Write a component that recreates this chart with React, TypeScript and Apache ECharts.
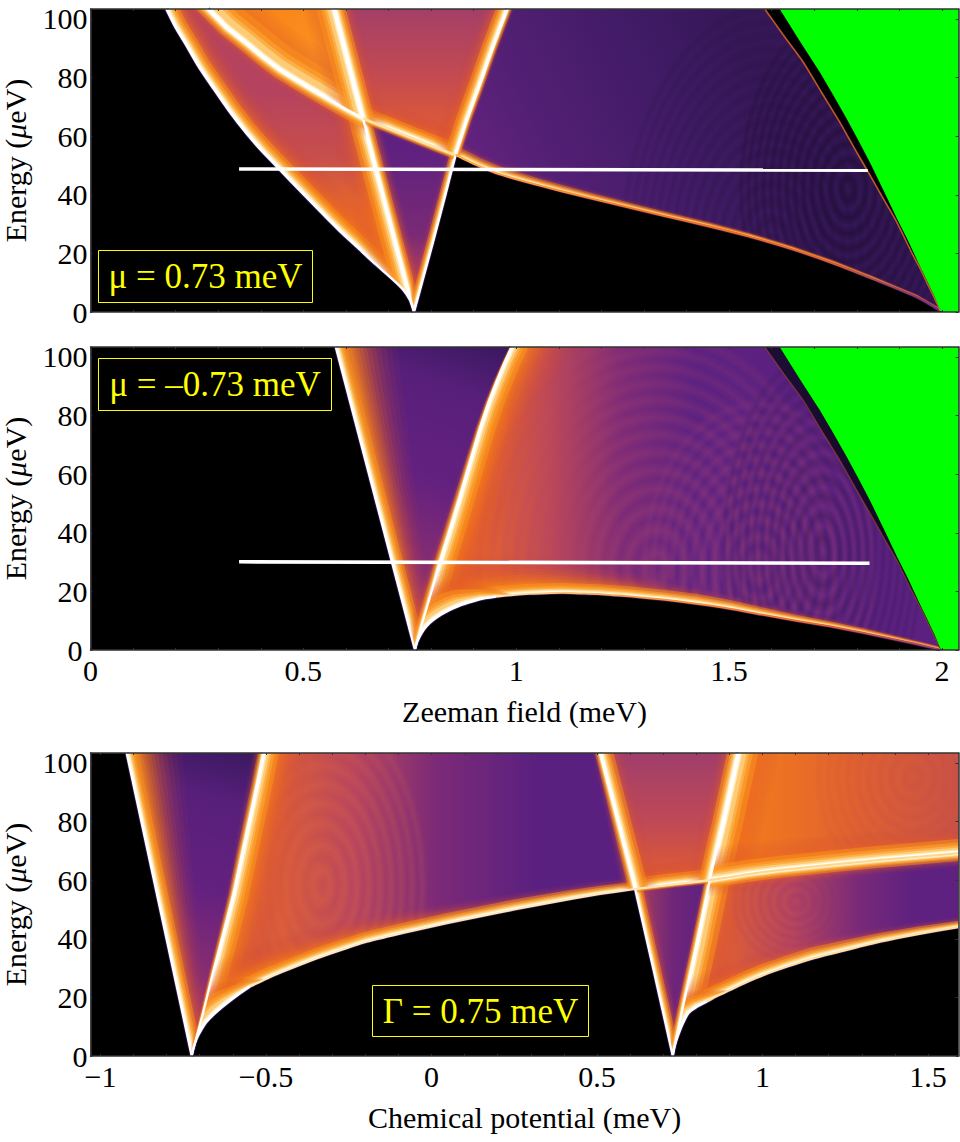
import React, { useEffect, useRef } from 'react';
import * as echarts from 'echarts';

type Pt = number[];

const E_MAX = 103.4;
const FIELD_MIN = 0;
const FIELD_MAX = 2.039;
const MU_MIN = -1.03;
const MU_MAX = 1.592;

const energyTicks = [0, 20, 40, 60, 80, 100];
const fieldLabels = [0, 0.5, 1, 1.5, 2];
const muLabels = [-1, -0.5, 0, 0.5, 1, 1.5];
const fieldTicks = [0, 0.1, 0.2, 0.3, 0.4, 0.5, 0.6, 0.7, 0.8, 0.9, 1, 1.1, 1.2, 1.3, 1.4, 1.5, 1.6, 1.7, 1.8, 1.9, 2];
const muTicks = [-1, -0.9, -0.8, -0.7, -0.6, -0.5, -0.4, -0.3, -0.2, -0.1, 0, 0.1, 0.2, 0.3, 0.4, 0.5, 0.6, 0.7, 0.8, 0.9, 1, 1.1, 1.2, 1.3, 1.4, 1.5];

// curves: [x in meV, energy in ueV]
const fanEdge: Pt[] = [[1.584, 103.4], [1.63, 94], [1.674, 85.3], [1.717, 75], [1.76, 64.8], [1.796, 55.5], [1.831, 46.7], [1.863, 38.5], [1.894, 30.7], [1.93, 20], [1.95, 14.5], [1.97, 8.5], [1.99, 2.5], [1.997, 0.3]];
const greenEdge: Pt[] = [[1.619, 103.4], [1.666, 92.5], [1.713, 81.9], [1.745, 74], [1.776, 66], [1.804, 58.5], [1.831, 51], [1.863, 41.5], [1.894, 32], [1.92, 24.5], [1.944, 17], [1.964, 11], [1.983, 5.2], [1.997, 0.3]];
const greenCorners: Pt[] = [[2.004, 0], [2.039, 0], [2.039, 103.4]];

// top panel, mu = 0.73
const p1Gap: Pt[] = [[0.178, 103.4], [0.2, 97], [0.225, 91], [0.255, 83.5], [0.288, 76.4], [0.325, 68.7], [0.366, 61], [0.405, 54.5], [0.445, 48.5], [0.5, 40.2], [0.562, 31], [0.586, 27.5], [0.625, 22.3], [0.664, 17], [0.711, 11], [0.734, 7.7], [0.75, 4.2], [0.76, 0]];
const p1FallHigh: Pt[] = [[0.573, 103.4], [0.64, 66.1]];
const p1FallLow: Pt[] = [[0.64, 66.1], [0.76, 0]];
const p1RiseLow: Pt[] = [[0.76, 0], [0.783, 12.3], [0.806, 24.6], [0.832, 39], [0.858, 53.6]];
const p1RiseHigh: Pt[] = [[0.858, 53.6], [0.885, 65.7], [0.9145, 77.5], [0.9445, 89.9], [0.9795, 103.4]];
const p1BandLeft: Pt[] = [[0.276, 103.4], [0.32, 97], [0.366, 91.7], [0.405, 87], [0.445, 82.6], [0.485, 79], [0.523, 75.7], [0.562, 72.4], [0.601, 69.2], [0.64, 66.1]];
const p1BandMid: Pt[] = [[0.64, 66.1], [0.7, 62.7], [0.758, 59.3], [0.81, 56.3], [0.858, 53.6]];
const p1BandRight: Pt[] = [[0.858, 53.6], [0.91, 50], [0.961, 47], [1.06, 43], [1.157, 39.4], [1.255, 36], [1.353, 32.6], [1.451, 29.3], [1.549, 25.7], [1.647, 21.5], [1.745, 16.6], [1.84, 11.2], [1.94, 5.2], [1.995, 0.6]];
const p1Cut: Pt[] = [[0.349, 48.8], [1.826, 48.4]];

// middle panel, mu = -0.73
const p2Fall: Pt[] = [[0.576, 103.4], [0.762, 0]];
const p2Rise: Pt[] = [[0.762, 0], [0.777, 8], [0.793, 15.9], [0.807, 23], [0.8205, 30.1], [0.844, 41], [0.8675, 52.3], [0.891, 64], [0.9145, 75.6], [0.935, 84.5], [0.9537, 91.6], [0.972, 98], [0.989, 103.4]];
const p2Floor: Pt[] = [[0.762, 0], [0.767, 2.6], [0.7775, 5.7], [0.79, 8.2], [0.805, 10.2], [0.824, 12.1], [0.844, 13.7], [0.863, 14.9], [0.883, 15.9], [0.9145, 17.3], [0.953, 18.2], [0.993, 18.8], [1.032, 19.2], [1.071, 19.4], [1.11, 19.5], [1.149, 19.3], [1.19, 19.1], [1.228, 18.7], [1.267, 18.3], [1.345, 17.2], [1.423, 15.8], [1.502, 14.1], [1.58, 12], [1.658, 10], [1.737, 8.1], [1.815, 5.9], [1.893, 3.5], [1.965, 1.2], [1.995, 0.2]];
const p2Cut: Pt[] = [[0.349, 30.1], [1.83, 29.6]];

// bottom panel, Gamma = 0.75
const p3Fall1: Pt[] = [[-0.921, 103.4], [-0.7245, 0]];
const p3Rise1: Pt[] = [[-0.7245, 0], [-0.707, 7.6], [-0.689, 15.1], [-0.674, 22], [-0.659, 28.8], [-0.629, 41.7], [-0.599, 54.9], [-0.574, 68], [-0.548, 81.7], [-0.528, 92.3], [-0.508, 103.4]];
const p3Floor1: Pt[] = [[-0.7245, 0], [-0.719, 2.8], [-0.709, 6], [-0.695, 9], [-0.679, 11.7], [-0.65, 15], [-0.619, 17.9], [-0.584, 20.9], [-0.548, 23.7], [-0.498, 26.4], [-0.448, 28.8], [-0.398, 31.1], [-0.347, 33.3], [-0.27, 36.3], [-0.196, 39], [-0.12, 41.1], [-0.045, 43], [0.05, 45.4], [0.1465, 47.6], [0.25, 50], [0.348, 52.1], [0.43, 53.8], [0.509, 55.3], [0.615, 57]];
const p3Band: Pt[] = [[0.615, 57], [0.73, 58.6], [0.841, 60]];
const p3BandRight: Pt[] = [[0.841, 60], [0.9, 61], [0.953, 62], [1.05, 63.4], [1.153, 64.6], [1.255, 65.8], [1.355, 66.9], [1.47, 68], [1.592, 69.2]];
const p3Fall2High: Pt[] = [[0.509, 103.4], [0.615, 57]];
const p3Fall2Low: Pt[] = [[0.615, 57], [0.7287, 0]];
const p3Rise2Low: Pt[] = [[0.7287, 0], [0.761, 17.4], [0.801, 38.3], [0.841, 60]];
const p3Rise2High: Pt[] = [[0.841, 60], [0.861, 70], [0.8816, 80], [0.904, 91.5], [0.927, 103.4]];
const p3Floor2: Pt[] = [[0.7287, 0], [0.733, 2.8], [0.7456, 7.2], [0.759, 11], [0.776, 14.6], [0.802, 16.8], [0.8314, 18.5], [0.866, 20.6], [0.9018, 22.5], [0.95, 25.1], [1.0024, 27.6], [1.078, 30.6], [1.153, 33.3], [1.254, 36.2], [1.355, 39], [1.47, 41.6], [1.592, 44]];

const rev = (c: Pt[]) => [...c].reverse();
const top = (x: number): Pt => [x, E_MAX];

// outer glow: fraction of the half width, colour, alpha
const glowOuter: [number, string, number][] = [
  [1, '#cf4a42', 0.06], [0.9, '#d8503a', 0.07], [0.81, '#e05832', 0.08], [0.72, '#e8622a', 0.1],
  [0.64, '#ee6c24', 0.12], [0.56, '#f2741e', 0.14], [0.49, '#f67c1a', 0.16], [0.43, '#f88218', 0.18],
  [0.37, '#f98618', 0.2], [0.32, '#fa8a18', 0.22], [0.28, '#fa8e1a', 0.25], [0.24, '#fb921c', 0.28]
];
// bright core: radius in px, colour, alpha
const glowCore: [number, string, number][] = [
  [11, '#fb961f', 0.45], [8, '#fdaa36', 0.5], [6, '#fec060', 0.55],
  [4.5, '#ffdc90', 0.65], [3.2, '#fff0c4', 0.8], [2, '#ffffff', 0.95]
];

const p1Regions = [
  {
    outline: [...p1Gap, ...rev(p1FallLow).slice(1), ...rev(p1BandLeft).slice(1)],
    from: [0.5, 75], to: [0.5, 18],
    stops: [[0, '#b5435f'], [0.4, '#c94f4a'], [0.75, '#ee6f24'], [1, '#f98a1c']],
    glows: [{ line: p1Gap, hw: [32, 30], core: 1.1 }, { line: p1FallLow, hw: [34, 36], core: 1.3 }, { line: p1BandLeft, hw: [16, 16], core: 0.8 }]
  },
  {
    outline: [...p1BandLeft, ...rev(p1FallHigh).slice(1)],
    from: [0.4, 103], to: [0.6, 70],
    stops: [[0, '#f98418'], [1, '#fb9a24']],
    glows: [{ line: p1BandLeft, hw: [40, 40], core: 2.4 }, { line: p1FallHigh, hw: [30, 30], core: 1.6 }]
  },
  {
    outline: [...p1FallHigh, ...p1BandMid.slice(1), ...p1RiseHigh.slice(1), top(0.573)],
    from: [0.75, 103], to: [0.75, 60],
    stops: [[0, '#a53f67'], [0.5, '#c24a52'], [1, '#e25c33']],
    glows: [{ line: p1BandMid, hw: [24, 24], core: 1 }, { line: p1FallHigh, hw: [22, 22], core: 1 }, { line: p1RiseHigh, hw: [24, 24], core: 1 }]
  },
  {
    outline: [...rev(p1FallLow), ...p1BandMid.slice(1), ...rev(p1RiseLow).slice(1)],
    from: [0.76, 55], to: [0.76, 3],
    stops: [[0, '#5f2180'], [0.55, '#7a2a75'], [0.8, '#a83c60'], [1, '#d85a36']],
    glows: [{ line: p1FallLow, hw: [16, 16], core: 0.7 }, { line: p1RiseLow, hw: [10, 10], core: 0.7 }, { line: p1BandMid, hw: [7, 7], core: 0.7 }]
  },
  {
    outline: [...p1RiseHigh, ...fanEdge, ...rev(p1BandRight).slice(1)],
    from: [0.9, 40], to: [1.55, 85],
    stops: [[0, '#65237f'], [0.3, '#521f74'], [0.7, '#411b66'], [1, '#361758']],
    fringes: [
      { c: [1.78, 42], r: [0.26, 62], rings: 13, rgb: '24,10,44', alpha: 0.55 },
      { c: [1.6, 20], r: [0.36, 86], rings: 16, rgb: '30,14,52', alpha: 0.3 }
    ],
    glows: [{ line: p1BandRight, hw: [14, 8, 5, 3], power: 0.8 }, { line: p1RiseHigh, hw: [7, 7], power: 0.8 }]
  }
];

const p2Regions = [
  {
    outline: [...p2Fall, ...p2Rise.slice(1)],
    from: [0.98, 103], to: [0.76, 5],
    stops: [[0, '#3a1860'], [0.18, '#571f7a'], [0.5, '#64217f'], [0.8, '#8a2e70'], [1, '#c04a50']],
    glows: [{ line: p2Fall, hw: [62, 20] }, { line: p2Rise, hw: [14, 3], power: 0.7, core: 0.5 }]
  },
  {
    outline: [...rev(p2Rise), ...p2Floor.slice(1), ...rev(fanEdge).slice(1)],
    from: [0.92, 60], to: [1.42, 60],
    stops: [[0, '#e6622e'], [0.3, '#c04a55'], [0.65, '#7f2b76'], [1, '#5c2180']],
    fringes: [
      { c: [1.33, 28], r: [0.43, 82], rings: 13, rgb: '176,70,110', alpha: 0.3 },
      { c: [1.57, 28], r: [0.28, 58], rings: 11, rgb: '150,60,125', alpha: 0.42 },
      { c: [1.72, 34], r: [0.24, 70], rings: 12, rgb: '30,14,60', alpha: 0.3 }
    ],
    glows: [
      { line: p2Rise, hw: [44, 56], core: 1.4 },
      { line: p2Floor, hw: [46, 40, 18, 9, 4], core: 0.9 },
      { line: p2Floor.slice(0, 12), hw: [30, 30, 0], core: 1.8 }
    ]
  },
  {
    outline: [...fanEdge, ...rev(greenEdge).slice(1)],
    from: [1.7, 100], to: [1.7, 0],
    stops: [[0, '#1c0d35'], [1, '#0c0618']],
    glows: []
  }
];

const p3Regions = [
  {
    outline: [...p3Fall1, ...p3Rise1.slice(1)],
    from: [-0.51, 103], to: [-0.72, 5],
    stops: [[0, '#3a1860'], [0.18, '#571f7a'], [0.5, '#64217f'], [0.78, '#8a2e70'], [1, '#c04a50']],
    glows: [{ line: p3Fall1, hw: [56, 18] }, { line: p3Rise1, hw: [3, 12], power: 0.7, core: 0.5 }]
  },
  {
    outline: [...rev(p3Rise1), ...p3Floor1.slice(1), ...rev(p3Fall2High).slice(1)],
    from: [-0.45, 70], to: [0.32, 70],
    stops: [[0, '#d85a3a'], [0.28, '#b8455d'], [0.6, '#7c2a77'], [1, '#5a2080']],
    fringes: [{ c: [-0.332, 58.3], r: [0.32, 62], rings: 9, rgb: '226,108,70', alpha: 0.28 }],
    glows: [
      { line: p3Rise1, hw: [56, 46], core: 1.4 },
      { line: p3Floor1, hw: [48, 30, 18, 12], core: 0.9 },
      { line: p3Floor1.slice(0, 10), hw: [30, 30, 0], core: 1.8 },
      { line: p3Fall2High, hw: [8, 14], power: 0.8, core: 0.6 }
    ]
  },
  {
    outline: [...p3Fall2High, ...p3Band.slice(1), ...p3Rise2High.slice(1)],
    from: [0.7, 103], to: [0.7, 58],
    stops: [[0, '#a03e6b'], [0.55, '#c24a54'], [1, '#e55e2c']],
    glows: [{ line: p3Band, hw: [22, 22] }, { line: p3Fall2High, hw: [24, 24], core: 1.2 }, { line: p3Rise2High, hw: [22, 22] }]
  },
  {
    outline: [...rev(p3Fall2Low), ...p3Band.slice(1), ...rev(p3Rise2Low).slice(1)],
    from: [0.62, 40], to: [0.82, 40],
    stops: [[0, '#a53d62'], [0.55, '#6f2679'], [1, '#5f2180']],
    glows: [{ line: p3Fall2Low, hw: [14, 14], core: 0.7 }, { line: p3Rise2Low, hw: [8, 8], core: 0.7 }, { line: p3Band, hw: [5, 5], power: 0.8, core: 0.6 }]
  },
  {
    outline: [...p3Rise2High, top(1.592), ...rev(p3BandRight)],
    from: [0.95, 90], to: [1.59, 90],
    stops: [[0, '#f47a1c'], [0.5, '#e06230'], [1, '#ca5245']],
    fringes: [{ c: [1.455, 95], r: [0.3, 40], rings: 9, rgb: '190,70,70', alpha: 0.22 }],
    glows: [{ line: p3Rise2High, hw: [40, 40], core: 1.8 }, { line: p3BandRight, hw: [32, 26], core: 1.3 }]
  },
  {
    outline: [...p3BandRight, [1.592, 44], ...rev(p3Floor2).slice(1), ...p3Rise2Low.slice(1)],
    from: [0.9, 45], to: [1.45, 45],
    stops: [[0, '#dc5c38'], [0.35, '#b8455d'], [0.7, '#7a2a78'], [1, '#5f2180']],
    fringes: [{ c: [1.103, 52.6], r: [0.2, 22], rings: 7, rgb: '120,42,120', alpha: 0.2 }],
    glows: [
      { line: p3Rise2Low, hw: [40, 40], core: 1.8 },
      { line: p3Floor2, hw: [36, 24, 16, 10], core: 1 },
      { line: p3Floor2.slice(0, 9), hw: [24, 24, 0], core: 1.6 },
      { line: p3BandRight, hw: [16, 14], core: 0.7 }
    ]
  }
];

// polygon around a curve; halfWidth(hw) turns the local taper into this layer's offset.
// Both ends run on past the curve so the group clip, not a cut end, closes the glow.
const offsetBand = (pts: number[][], taper: number[], halfWidth: (hw: number) => number) => {
  const lens = [0];
  for (let i = 1; i < pts.length; i++) {
    lens.push(lens[i - 1] + Math.hypot(pts[i][0] - pts[i - 1][0], pts[i][1] - pts[i - 1][1]));
  }
  const total = lens[lens.length - 1] || 1;
  const left: number[][] = [];
  const right: number[][] = [];
  const n = pts.length;
  pts.forEach((p, i) => {
    const a = pts[Math.max(i - 1, 0)];
    const b = pts[Math.min(i + 1, n - 1)];
    const dx = b[0] - a[0];
    const dy = b[1] - a[1];
    const d = Math.hypot(dx, dy) || 1;
    const t = (lens[i] / total) * (taper.length - 1);
    const k = Math.min(Math.floor(t), taper.length - 2);
    const hw = halfWidth(taper[k] + (taper[k + 1] - taper[k]) * (t - k));
    const run = i === 0 ? -70 : i === n - 1 ? 70 : 0;
    const q = [p[0] + (dx / d) * run, p[1] + (dy / d) * run];
    if (i === 0) {
      left.push([q[0] - (dy / d) * hw, q[1] + (dx / d) * hw]);
      right.push([q[0] + (dy / d) * hw, q[1] - (dx / d) * hw]);
    }
    left.push([p[0] - (dy / d) * hw, p[1] + (dx / d) * hw]);
    right.push([p[0] + (dy / d) * hw, p[1] - (dx / d) * hw]);
    if (i === n - 1) {
      left.push([q[0] - (dy / d) * hw, q[1] + (dx / d) * hw]);
      right.push([q[0] + (dy / d) * hw, q[1] - (dx / d) * hw]);
    }
  });
  return [...left, ...right.reverse()];
};

// alternating clear and tinted stops, so an ellipse reads as soft concentric fringes
const ringStops = (rings: number, rgb: string, alpha: number) => {
  const stops = [];
  for (let j = 0; j <= rings * 2; j++) {
    const t = j / (rings * 2);
    const a = j % 2 ? alpha * (1 - 0.55 * t) : 0;
    stops.push({ offset: Math.pow(t, 0.85), color: `rgba(${rgb},${a.toFixed(3)})` });
  }
  return stops;
};

const makeRender = (regions: any[]) => (params: any, api: any) => {
  const r = regions[params.dataIndex];
  const px = (c: Pt[]) => c.map((p) => api.coord(p));
  const points = px(r.outline);
  const a = api.coord(r.from);
  const b = api.coord(r.to);
  const fill = new echarts.graphic.LinearGradient(
    a[0], a[1], b[0], b[1],
    r.stops.map((s: any[]) => ({ offset: s[0], color: s[1] })),
    true
  );
  const children: any[] = [{ type: 'polygon', shape: { points }, style: { fill } }];
  (r.fringes || []).forEach((f: any) => {
    const c = api.coord(f.c);
    const edge = api.coord([f.c[0] + f.r[0], f.c[1] + f.r[1]]);
    children.push({
      type: 'ellipse',
      shape: { cx: c[0], cy: c[1], rx: Math.abs(edge[0] - c[0]), ry: Math.abs(edge[1] - c[1]) },
      style: { fill: new echarts.graphic.RadialGradient(0.5, 0.5, 0.5, ringStops(f.rings, f.rgb, f.alpha)) }
    });
  });
  r.glows.forEach((g: any) => {
    const linePx = px(g.line);
    const power = g.power ?? 1;
    const coreScale = g.core ?? 1;
    glowOuter.forEach(([f, color, alpha]) => {
      children.push({
        type: 'polygon',
        shape: { points: offsetBand(linePx, g.hw, (hw) => hw * f) },
        style: { fill: color, opacity: alpha * power }
      });
    });
    glowCore.forEach(([rad, color, alpha]) => {
      const scale = rad <= 3.2 ? Math.min(coreScale, 1.2) : coreScale;
      children.push({
        type: 'polygon',
        shape: { points: offsetBand(linePx, g.hw, (hw) => Math.min(rad * scale, (hw * rad) / 18)) },
        style: { fill: color, opacity: alpha * power }
      });
    });
  });
  return { type: 'group', clipPath: { type: 'polygon', shape: { points } }, children };
};

const regionSeries = (regions: any[], i: number) => ({
  type: 'custom',
  xAxisIndex: i * 2,
  yAxisIndex: i * 2,
  clip: true,
  silent: true,
  z: 2,
  encode: { x: 0, y: 1 },
  data: regions.map((r) => r.outline[0]),
  renderItem: makeRender(regions)
});

const line = (data: Pt[], i: number, color: any, width: number, z: number, opacity = 1) => ({
  type: 'line',
  xAxisIndex: i * 2,
  yAxisIndex: i * 2,
  data,
  showSymbol: false,
  silent: true,
  smooth: 0.2,
  z,
  lineStyle: { color, width, opacity, join: 'round' }
});

// white ridge; the purple rim sits under the regions, so only its dark side shows
const ridge = (data: Pt[], i: number, core = 2.4) => [
  line(data, i, '#2a1048', core + 1.8, 1),
  line(data, i, '#ffffff', core, 6)
];

const fade = (stops: any[]) =>
  new echarts.graphic.LinearGradient(0, 0, 1, 0, stops.map((s) => ({ offset: s[0], color: s[1] })));

const greenPolygon = (i: number) => ({
  type: 'custom',
  xAxisIndex: i * 2,
  yAxisIndex: i * 2,
  clip: true,
  silent: true,
  z: 7,
  encode: { x: 0, y: 1 },
  data: [greenEdge[0]],
  renderItem: (_: any, api: any) => ({
    type: 'polygon',
    shape: { points: [...greenEdge, ...greenCorners].map((p) => api.coord(p)) },
    style: { fill: '#00ff00' }
  })
});

const serif = 'Liberation Serif';
const frame = { color: '#333333', width: 1.5 };

const buildAxes = () => {
  const panels = [
    { min: FIELD_MIN, max: FIELD_MAX, ticks: fieldTicks, labels: fieldLabels, name: '', show: false },
    { min: FIELD_MIN, max: FIELD_MAX, ticks: fieldTicks, labels: fieldLabels, name: 'Zeeman field (meV)', show: true },
    { min: MU_MIN, max: MU_MAX, ticks: muTicks, labels: muLabels, name: 'Chemical potential (meV)', show: true }
  ];
  const xAxis: any[] = [];
  const yAxis: any[] = [];
  panels.forEach((p, i) => {
    xAxis.push({
      type: 'value', gridIndex: i, position: 'bottom', min: p.min, max: p.max, z: 10,
      name: p.name, nameLocation: 'middle', nameGap: 46,
      nameTextStyle: { fontFamily: serif, fontSize: 30, color: '#000' },
      axisLine: { show: true, onZero: false, lineStyle: frame },
      axisTick: { show: true, inside: true, length: 2, customValues: p.ticks, lineStyle: { color: '#333' } },
      axisLabel: {
        show: p.show, customValues: p.labels, margin: 10, lineHeight: 20, fontFamily: serif, fontSize: 30, color: '#000',
        formatter: (v: number) => (v < 0 ? '\u2212' + Math.abs(v) : String(v))
      },
      splitLine: { show: false }
    });
    xAxis.push({
      type: 'value', gridIndex: i, position: 'top', min: p.min, max: p.max, z: 10,
      axisLine: { show: true, onZero: false, lineStyle: frame },
      axisTick: { show: true, inside: true, length: 2, customValues: p.ticks, lineStyle: { color: '#333' } },
      axisLabel: { show: false },
      splitLine: { show: false }
    });
    yAxis.push({
      type: 'value', gridIndex: i, position: 'left', min: 0, max: E_MAX, z: 10,
      name: '{a|Energy (}{b|\u03bc}{a|eV)}', nameLocation: 'middle', nameGap: 60,
      nameTextStyle: {
        rich: {
          a: { fontFamily: serif, fontSize: 30, color: '#000' },
          b: { fontFamily: serif, fontSize: 30, fontStyle: 'italic', color: '#000' }
        }
      },
      axisLine: { show: true, onZero: false, lineStyle: frame },
      axisTick: { show: true, inside: true, length: 2, customValues: energyTicks, lineStyle: { color: '#333' } },
      axisLabel: {
        show: true, customValues: energyTicks, margin: 3, lineHeight: 20, fontFamily: serif, fontSize: 30, color: '#000',
        // the zero sits a touch left where an x label "0" lies under it
        formatter: (v: number) => (v === 0 && p.show && p.min === 0 ? '{z|0}' : String(v)),
        rich: { z: { fontFamily: serif, fontSize: 30, color: '#000', lineHeight: 20, padding: [0, 5, 0, 0] } }
      },
      splitLine: { show: false }
    });
    yAxis.push({
      type: 'value', gridIndex: i, position: 'right', min: 0, max: E_MAX, z: 10,
      axisLine: { show: true, onZero: false, lineStyle: frame },
      axisTick: { show: true, inside: true, length: 3, customValues: energyTicks, lineStyle: { color: '#333' } },
      axisLabel: { show: false },
      splitLine: { show: false }
    });
  });
  return { xAxis, yAxis };
};

const noteBox = (x: number, y: number, w: number, h: number, text: string) => [
  { type: 'rect', shape: { x, y, width: w, height: h }, style: { fill: 'transparent', stroke: '#ffff00', lineWidth: 1 }, z: 20 },
  {
    type: 'text', x: x + w / 2, y: y + h / 2, z: 20,
    style: { text, fill: '#ffff00', font: `35px "${serif}"`, textAlign: 'center', textVerticalAlign: 'middle' }
  }
];

const panelGrid = (t: number) => ({
  left: 90.5, top: t, width: 868, height: 303, show: true, backgroundColor: '#000', borderWidth: 0, outerBoundsMode: 'none'
});

const App: React.FC = () => {
  const ref = useRef<HTMLDivElement>(null);

  useEffect(() => {
    if (!ref.current) return;
    const chart = echarts.init(ref.current, undefined, { renderer: 'svg' });
    const { xAxis, yAxis } = buildAxes();
    const band1 = fade([[0, '#fdb040'], [0.35, '#f47a20'], [0.75, '#e0622a'], [1, '#7a2d78']]);
    const floor2 = fade([[0, '#ffe8b0'], [0.3, '#f9a03c'], [0.7, '#e8682a'], [1, '#a03c68']]);

    chart.setOption({
      animation: false,
      backgroundColor: '#ffffff',
      grid: [panelGrid(9), panelGrid(347), panelGrid(753)],
      xAxis,
      yAxis,
      series: [
        regionSeries(p1Regions, 0),
        ...ridge(p1Gap, 0),
        ...ridge([...p1FallHigh, ...p1FallLow.slice(1)], 0),
        ...ridge([...p1RiseLow, ...p1RiseHigh.slice(1)], 0),
        ...ridge(p1BandLeft, 0),
        line(p1BandMid, 0, '#ffe0a0', 2, 6),
        line(p1BandRight, 0, '#2a1048', 3.6, 1),
        line(p1BandRight, 0, band1, 2.2, 6),
        line(fanEdge, 0, '#e0642c', 1.6, 6, 0.85),
        greenPolygon(0),
        line(p1Cut, 0, '#ffffff', 3.6, 8),

        regionSeries(p2Regions, 1),
        ...ridge(p2Fall, 1, 2.2),
        ...ridge(p2Rise, 1, 2.2),
        ...ridge(p2Floor.slice(0, 11), 1, 2.4),
        line(p2Floor.slice(10), 1, '#2a1048', 3.6, 1),
        line(p2Floor.slice(10), 1, floor2, 2, 6),
        line(fanEdge, 1, '#e0642c', 1.2, 6, 0.45),
        greenPolygon(1),
        line(p2Cut, 1, '#ffffff', 3.6, 8),

        regionSeries(p3Regions, 2),
        ...ridge(p3Fall1, 2, 2.2),
        ...ridge(p3Rise1, 2, 2.2),
        ...ridge([...p3Fall2High, ...p3Fall2Low.slice(1)], 2, 2.2),
        ...ridge([...p3Rise2Low, ...p3Rise2High.slice(1)], 2, 2.2),
        ...ridge(p3Floor1.slice(0, 9), 2, 2.4),
        line(p3Floor1.slice(8), 2, '#2a1048', 3.6, 1),
        line(p3Floor1.slice(8), 2, '#ffe8b8', 2.2, 6),
        line(p3Band, 2, '#ffe6b0', 2.2, 6),
        line(p3BandRight, 2, '#ffd890', 2.2, 6),
        ...ridge(p3Floor2.slice(0, 7), 2, 2.4),
        line(p3Floor2.slice(6), 2, '#2a1048', 3.6, 1),
        line(p3Floor2.slice(6), 2, '#ffe0a0', 2.2, 6)
      ],
      graphic: [
        ...noteBox(98.5, 250.5, 214, 52, '\u03bc = 0.73 meV'),
        ...noteBox(98.5, 358.5, 233, 52, '\u03bc = \u20130.73 meV'),
        ...noteBox(372.5, 985.5, 216, 51, '\u0393 = 0.75 meV')
      ]
    });
    return () => chart.dispose();
  }, []);

  return <div ref={ref} style={{ position: 'absolute', left: 0, top: 0, width: 960, height: 1142 }} />;
};

export default App;
